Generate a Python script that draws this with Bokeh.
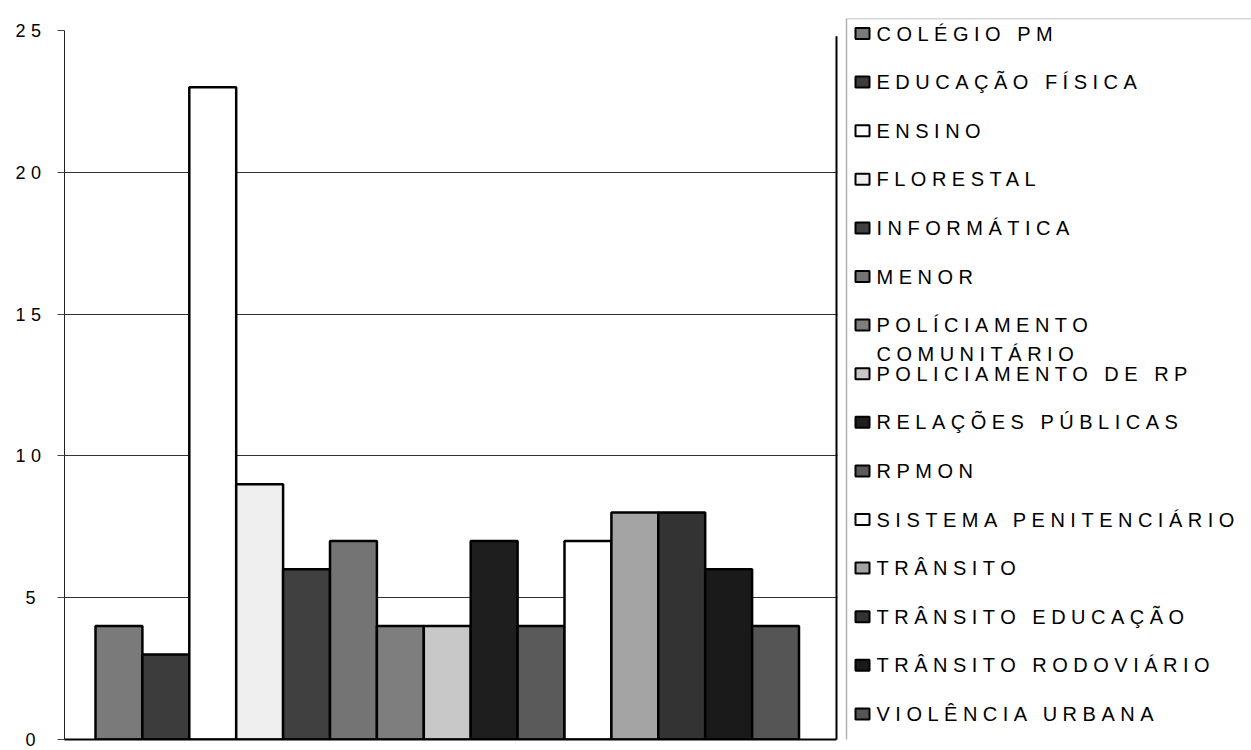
from bokeh.plotting import figure
from bokeh.models import Range1d, FixedTicker, Span, InlineStyleSheet, ColumnDataSource, BoxAnnotation
from bokeh.core.properties import value
from bokeh.embed import file_html
from bokeh.resources import INLINE

# ---- data ----
categories = [
    "COLÉGIO PM", "EDUCAÇÃO FÍSICA", "ENSINO", "FLORESTAL", "INFORMÁTICA",
    "MENOR", "POLÍCIAMENTO\nCOMUNITÁRIO", "POLICIAMENTO DE RP", "RELAÇÕES PÚBLICAS",
    "RPMON", "SISTEMA PENITENCIÁRIO", "TRÂNSITO", "TRÂNSITO EDUCAÇÃO",
    "TRÂNSITO RODOVIÁRIO", "VIOLÊNCIA URBANA",
]
values = [4, 3, 23, 9, 6, 7, 4, 4, 7, 4, 7, 8, 8, 6, 4]
fills = [
    "#7a7a7a", "#3c3c3c", "#ffffff", "#efefef", "#404040",
    "#747474", "#7e7e7e", "#c8c8c8", "#1e1e1e",
    "#5a5a5a", "#ffffff", "#a4a4a4", "#333333",
    "#1a1a1a", "#555555",
]
y_ticks = [0, 5, 10, 15, 20, 25]

FONT = "Liberation Sans"
n = len(categories)
idx = list(range(n))

# ---- layout constants (pixels) ----
W, H = 1251, 750
F_LEFT, F_TOP, F_BOTTOM = 64, 18, 739      # frame edges
Y_TOP_PX = 30                               # where the top tick sits
BAR_LEFT_PX, PITCH = 95, 46.9               # first bar edge, bar pitch
WALL_PX = 836                               # right wall of the chart
LEG_LEFT, LEG_TOP = 846, 18

ppu = (F_BOTTOM - Y_TOP_PX) / (y_ticks[-1] - y_ticks[0])
y_end = y_ticks[-1] + (Y_TOP_PX - F_TOP) / ppu
x_start = -0.5 - (BAR_LEFT_PX - F_LEFT) / PITCH
x_end = x_start + (W - F_LEFT) / PITCH
x_wall = x_start + (WALL_PX - F_LEFT) / PITCH

p = figure(width=W, height=H, output_backend="svg", toolbar_location=None,
           title=None,
           x_range=Range1d(x_start, x_end), y_range=Range1d(y_ticks[0], y_end),
           x_axis_type=None,
           min_border_left=F_LEFT, min_border_right=0,
           min_border_top=F_TOP, min_border_bottom=H - F_BOTTOM)
p.extra_x_ranges = {"px": Range1d(F_LEFT, W)}
p.extra_y_ranges = {"px": Range1d(F_BOTTOM, F_TOP)}
p.outline_line_color = None
p.background_fill_color = "white"
p.stylesheets = [InlineStyleSheet(css=":host { letter-spacing: 5.5px; }")]

ax = p.yaxis[0]
ax.ticker = FixedTicker(ticks=y_ticks)
ax.bounds = (y_ticks[0], y_ticks[-1])
ax.major_tick_in = 0
ax.major_tick_out = 7
ax.minor_tick_in = 0
ax.minor_tick_out = 0
ax.axis_line_color = "#222222"
ax.axis_line_width = 1
ax.major_tick_line_color = "#444444"
ax.major_label_text_font = FONT
ax.major_label_text_font_size = "18px"
ax.major_label_text_color = "black"
ax.major_label_standoff = 22

p.ygrid.ticker = FixedTicker(ticks=y_ticks[1:-1])
p.ygrid.grid_line_color = "#333333"
p.ygrid.grid_line_width = 1

# bars
src = ColumnDataSource(dict(x=idx, top=values, fill=fills, name=categories))
p.vbar(x="x", top="top", width=1, bottom=0, source=src,
       fill_color="fill", line_color="black", line_width=2.5)

# white cover right of the wall (hides grid lines there)
p.add_layout(BoxAnnotation(left=WALL_PX + 1, right=W + 500, top=F_TOP - 50, bottom=H + 500,
                           x_range_name="px", y_range_name="px",
                           fill_color="white", fill_alpha=1, line_color=None))
# baseline and right wall
p.segment(x0=[x_start], y0=[0], x1=[x_wall], y1=[0], line_color="black",
          line_width=2, level="overlay")
p.segment(x0=[x_wall], y0=[0], x1=[x_wall], y1=[y_ticks[-1] - 0.2], line_color="black",
          line_width=2, level="overlay")

# legend border (left and top edges visible)
p.add_layout(BoxAnnotation(left=LEG_LEFT, right=W + 500, top=LEG_TOP, bottom=H + 500,
                           x_range_name="px", y_range_name="px",
                           fill_alpha=0, line_color="black", line_width=1.5))

# legend rows
pitch = 48.6
row_y = [33 + i * pitch for i in idx]
lsrc = ColumnDataSource(dict(
    sx=[862] * n, sy=row_y, fill=fills,
    tx=[876] * n, ty=[y - 11 for y in row_y], label=categories,
))
p.rect(x="sx", y="sy", width=14, height=11, source=lsrc,
       fill_color="fill", line_color="black", line_width=2,
       x_range_name="px", y_range_name="px", level="overlay")
p.text(x="tx", y="ty", text="label", source=lsrc,
       text_font=value(FONT), text_font_size="20px", text_color="black",
       text_baseline="top", text_align="left", text_line_height=1.3,
       x_range_name="px", y_range_name="px", level="overlay")

open("out.html", "w").write(file_html(p, INLINE))
